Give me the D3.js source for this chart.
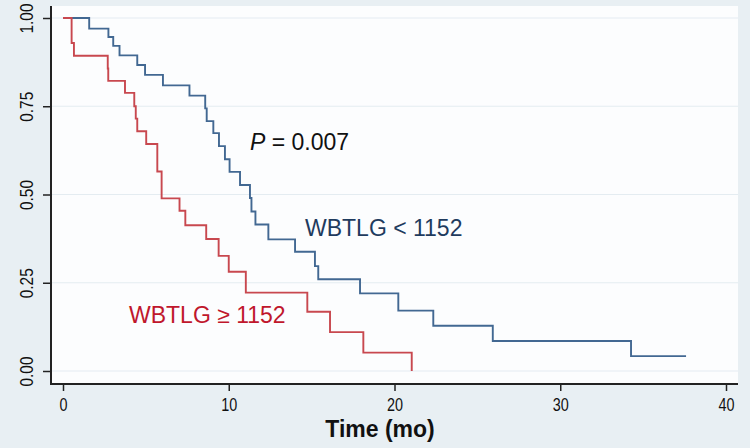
<!DOCTYPE html>
<html>
<head>
<meta charset="utf-8">
<script src="https://cdn.jsdelivr.net/npm/d3@7"></script>
<style>
  html, body { margin: 0; padding: 0; background: #e8eff3; }
  svg { display: block; }
</style>
</head>
<body>
<svg id="chart" width="750" height="448"></svg>
<script>
// ---- data ----
const xTicks = [0, 10, 20, 30, 40];
const yTicks = [0, 0.25, 0.5, 0.75, 1.0];
const yTickLabels = ["0.00", "0.25", "0.50", "0.75", "1.00"];

// WBTLG < 1152 (blue)
const lowTimes = [0, 1.58, 2.74, 3.03, 3.41, 4.48, 4.95, 6.03, 7.63, 8.58, 8.67, 9.07, 9.41, 9.77, 10.05, 10.68, 11.28, 11.37, 11.61, 12.39, 14.0, 15.2, 15.4, 17.92, 20.23, 22.34, 25.93, 34.27, 37.59];
const lowSurv  = [1.0, 0.970, 0.946, 0.921, 0.894, 0.867, 0.839, 0.809, 0.780, 0.744, 0.708, 0.674, 0.637, 0.600, 0.564, 0.527, 0.490, 0.452, 0.415, 0.373, 0.338, 0.297, 0.260, 0.220, 0.171, 0.128, 0.085, 0.042, 0.042];

// WBTLG >= 1152 (red)
const highTimes = [0, 0.52, 0.66, 2.70, 2.73, 3.74, 4.30, 4.39, 4.48, 5.02, 5.69, 5.95, 7.03, 7.38, 8.64, 9.39, 10.0, 11.03, 14.74, 16.11, 18.12, 21.04];
const highSurv  = [1.0, 0.929, 0.893, 0.857, 0.822, 0.788, 0.750, 0.715, 0.679, 0.643, 0.565, 0.489, 0.454, 0.413, 0.374, 0.326, 0.281, 0.222, 0.168, 0.110, 0.052, 0.0];

const labels = {
  pValue: "0.007",
  low: "WBTLG < 1152",
  high: "WBTLG \u2265 1152",
  xTitle: "Time (mo)"
};

// ---- layout ----
const svg = d3.select("#chart");
const W = 750, H = 448;
const plot = { left: 51, right: 738, top: 6, bottom: 384 };

const x = d3.scaleLinear().domain([0, 40]).range([63, 726]);
const y = d3.scaleLinear().domain([0, 1]).range([371, 18]);

// outer background
svg.append("rect").attr("width", W).attr("height", H).attr("fill", "#e8eff3");
// plot region
svg.append("rect")
  .attr("x", plot.left).attr("y", plot.top)
  .attr("width", plot.right - plot.left).attr("height", plot.bottom - plot.top)
  .attr("fill", "#fcfdfe");

// gridlines
svg.append("g").selectAll("line").data(yTicks).join("line")
  .attr("x1", plot.left).attr("x2", plot.right)
  .attr("y1", d => y(d)).attr("y2", d => y(d))
  .attr("stroke", "#e4ecf1").attr("stroke-width", 1.2);

// curves
const line = d3.line()
  .x(d => x(d[0])).y(d => y(d[1]))
  .curve(d3.curveStepAfter);

const lowData = lowTimes.map((t, i) => [t, lowSurv[i]]);
const highData = highTimes.map((t, i) => [t, highSurv[i]]);

svg.append("path").datum(lowData)
  .attr("d", line).attr("fill", "none")
  .attr("stroke", "#426892").attr("stroke-width", 1.9);
svg.append("path").datum(highData)
  .attr("d", line).attr("fill", "none")
  .attr("stroke", "#c8484f").attr("stroke-width", 1.9);

// x axis
const xAxis = svg.append("g")
  .attr("transform", `translate(0,${plot.bottom})`)
  .call(d3.axisBottom(x).tickValues(xTicks).tickSize(7).tickSizeOuter(0).tickFormat(d3.format("d")));
xAxis.select(".domain").remove();
xAxis.selectAll(".tick line").attr("stroke", "#222").attr("stroke-width", 1.5);
xAxis.selectAll(".tick text")
  .attr("y", 27.5).attr("dy", null)
  .attr("transform", "scale(0.8,1)")
  .attr("fill", "#111")
  .style("font-family", "'Liberation Sans', Arial, sans-serif")
  .style("font-size", "18px");
svg.append("line")
  .attr("x1", plot.left).attr("x2", plot.right)
  .attr("y1", plot.bottom).attr("y2", plot.bottom)
  .attr("stroke", "#222").attr("stroke-width", 2);

// y axis
const yAxis = svg.append("g")
  .attr("transform", `translate(${plot.left},0)`)
  .call(d3.axisLeft(y).tickValues(yTicks).tickSize(8).tickSizeOuter(0)
        .tickFormat((d, i) => yTickLabels[i]));
yAxis.select(".domain").remove();
yAxis.selectAll(".tick line").attr("stroke", "#222").attr("stroke-width", 1.5);
yAxis.selectAll(".tick text")
  .attr("x", null).attr("dy", null)
  .attr("text-anchor", "middle")
  .attr("transform", "translate(-18,0) rotate(-90) scale(0.86,1)")
  .attr("fill", "#111")
  .style("font-family", "'Liberation Sans', Arial, sans-serif")
  .style("font-size", "18px");
svg.append("line")
  .attr("x1", plot.left).attr("x2", plot.left)
  .attr("y1", plot.top).attr("y2", plot.bottom + 1)
  .attr("stroke", "#222").attr("stroke-width", 2);

// x title
svg.append("text")
  .attr("x", 380).attr("y", 437)
  .attr("text-anchor", "middle")
  .attr("fill", "#111")
  .style("font-family", "'Liberation Sans', Arial, sans-serif")
  .style("font-size", "23px").style("font-weight", "bold")
  .text(labels.xTitle);

// annotations
const pText = svg.append("text")
  .attr("x", 250).attr("y", 150)
  .attr("fill", "#111")
  .style("font-family", "'Liberation Sans', Arial, sans-serif")
  .style("font-size", "23px");
pText.append("tspan").style("font-style", "italic").text("P");
pText.append("tspan").text(" = " + labels.pValue);

svg.append("text")
  .attr("x", 305).attr("y", 236)
  .attr("fill", "#1f3b5e")
  .style("font-family", "'Liberation Sans', Arial, sans-serif")
  .style("font-size", "23px")
  .text(labels.low);

svg.append("text")
  .attr("x", 129).attr("y", 323)
  .attr("fill", "#c0172c")
  .style("font-family", "'Liberation Sans', Arial, sans-serif")
  .style("font-size", "23px")
  .text(labels.high);
</script>
</body>
</html>
